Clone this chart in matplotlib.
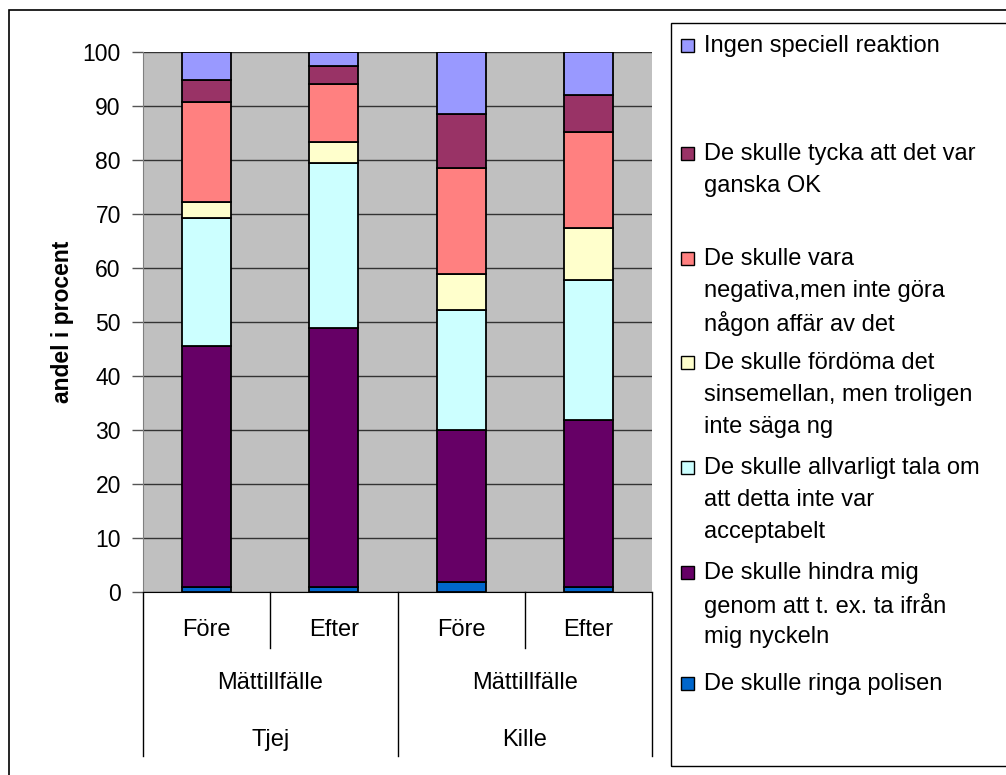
import matplotlib
matplotlib.use("Agg")
import matplotlib.pyplot as plt
from matplotlib.patches import Rectangle
from matplotlib.lines import Line2D
from matplotlib.transforms import blended_transform_factory
import numpy as np

plt.rcParams["font.family"] = ["Liberation Sans", "DejaVu Sans"]

# bar groups
tid = ["Före", "Efter", "Före", "Efter"]
kon = ["Tjej", "Kille"]

# series from bottom to top (share in percent)
serier = [
    "De skulle ringa polisen",
    "De skulle hindra mig genom att t. ex. ta ifrån mig nyckeln",
    "De skulle allvarligt tala om att detta inte var acceptabelt",
    "De skulle fördöma det sinsemellan, men troligen inte säga ng",
    "De skulle vara negativa,men inte göra någon affär av det",
    "De skulle tycka att det var ganska OK",
    "Ingen speciell reaktion",
]
ringa = [1.0, 1.0, 1.8, 1.0]
hindra = [44.5, 47.8, 28.2, 30.8]
allvarligt = [23.7, 30.7, 22.2, 26.0]
fordoma = [3.0, 3.8, 6.6, 9.6]
negativa = [18.6, 10.8, 19.7, 17.8]
ganska_ok = [4.0, 3.3, 10.0, 6.8]
ingen = [5.2, 2.6, 11.5, 8.0]

# legend text, wrapped as in the original
legend_rader = [
    ["De skulle ringa polisen"],
    ["De skulle hindra mig", "genom att t. ex. ta ifrån", "mig nyckeln"],
    ["De skulle allvarligt tala om", "att detta inte var", "acceptabelt"],
    ["De skulle fördöma det", "sinsemellan, men troligen", "inte säga ng"],
    ["De skulle vara", "negativa,men inte göra", "någon affär av det"],
    ["De skulle tycka att det var", "ganska OK"],
    ["Ingen speciell reaktion"],
]

farger = ["#0066CC", "#660066", "#CCFFFF", "#FFFFCC", "#FF8080", "#993366", "#9999FF"]

FS = 17
W, H = 1006, 775
fig = plt.figure(figsize=(W / 100, H / 100), dpi=100)

# outer chart border
fig.patches.append(Rectangle((9 / W, -0.1), 1.2, 1 - 10 / H + 0.1, transform=fig.transFigure,
                             fill=False, edgecolor="black", linewidth=1.2))

ax = fig.add_axes([143 / W, 1 - 592 / H, (652 - 143) / W, (592 - 52) / H])
ax.set_facecolor("#C0C0C0")

x = np.arange(len(tid))
data = [ringa, hindra, allvarligt, fordoma, negativa, ganska_ok, ingen]
bottom = np.zeros(len(tid))
for vals, col, namn in zip(data, farger, serier):
    ax.bar(x, vals, bottom=bottom, width=0.385, color=col, edgecolor="black",
           linewidth=1.3, label=namn, zorder=3)
    bottom += np.array(vals)

ax.set_xlim(-0.5, len(tid) - 0.5)
ax.set_ylim(0, 100)
ax.set_yticks(range(0, 101, 10))
ax.tick_params(axis="y", labelsize=16.5, direction="out", length=8, width=1, color="#555555", pad=8)
ax.set_xticks([])
ax.grid(axis="y", color="#333333", linewidth=1, zorder=0)
for s in ["top", "right"]:
    ax.spines[s].set_visible(False)
ax.spines["left"].set_color("#808080")
ax.spines["bottom"].set_color("black")
ax.set_ylabel("andel i procent", fontsize=16.5, fontweight="bold", labelpad=6)

# multi-level category axis
tr = blended_transform_factory(ax.transData, fig.transFigure)
fy = lambda p: 1 - p / H
for i, t in enumerate(tid):
    ax.text(i, fy(630), t, transform=tr, ha="center", va="center", fontsize=FS)
for g, k in enumerate(kon):
    ax.text(2 * g + 0.5, fy(683), "Mättillfälle", transform=tr, ha="center", va="center", fontsize=FS)
    ax.text(2 * g + 0.5, fy(740), k, transform=tr, ha="center", va="center", fontsize=FS)
for xv in [-0.5, 1.5, 3.5]:
    ax.add_line(Line2D([xv, xv], [fy(592), fy(756)], transform=tr, color="black", lw=1, clip_on=False))
for xv in [0.5, 2.5]:
    ax.add_line(Line2D([xv, xv], [fy(592), fy(648)], transform=tr, color="black", lw=1, clip_on=False))

# legend box drawn by hand to keep Excel-like spacing
fig.patches.append(Rectangle((671 / W, fy(766)), 0.5, (766 - 23) / H, transform=fig.transFigure,
                             fill=False, edgecolor="black", linewidth=1))
legend_y = [684, 573, 468, 363, 259, 154, 46]
for rader, col, y0 in zip(legend_rader, farger, legend_y):
    fig.patches.append(Rectangle((681 / W, fy(y0 + 6)), 13 / W, 13 / H, transform=fig.transFigure,
                                 facecolor=col, edgecolor="black", linewidth=1))
    for j, rad in enumerate(rader):
        fig.text(704 / W, fy(y0 + 32 * j), rad, ha="left", va="center", fontsize=FS)

fig.savefig("out.png", dpi=100)
